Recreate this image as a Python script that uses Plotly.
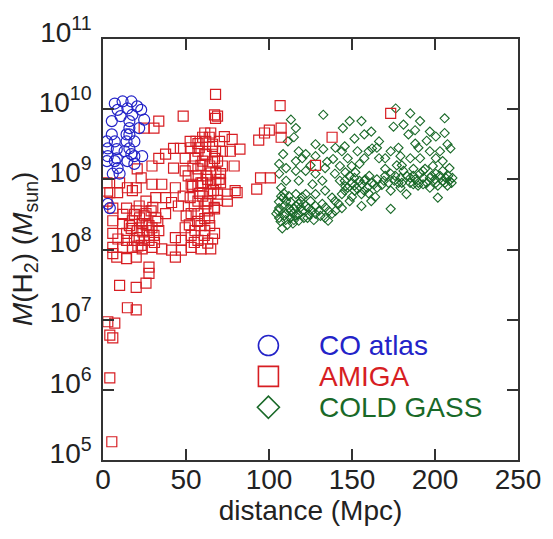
import plotly.graph_objects as go

# (distance [Mpc], log10 M(H2) [Msun])
co_atlas = [(7.1,10.08),(11.8,10.11),(17.1,10.11),(20.6,10.04),(23.0,9.99),(8.8,9.99),(14.7,10.01),
            (17.7,9.92),(15.9,9.83),(24.8,9.85),(15.9,9.73),(21.8,9.73),(5.3,9.64),(14.2,9.64),(2.4,9.54),
            (7.1,9.54),(14.2,9.54),(18.9,9.54),(2.9,9.44),(8.3,9.43),(15.9,9.44),(17.1,9.36),(2.9,9.33),
            (8.3,9.30),(18.9,9.33),(23.6,9.33),(2.4,9.26),(7.1,9.26),(14.7,9.26),(18.9,9.22),(8.8,9.16),
            (5.9,9.08),(10.0,9.08),(2.9,8.65),(4.1,8.59),(15.9,9.64),(10.6,9.90),(5.3,9.83),(13.0,9.40)]

amiga = [(67.8,10.21),(48.3,9.90),(33.6,9.83),(67.2,9.92),(67.8,9.87),(30.7,9.73),(24.8,9.73),(61.3,9.66),
         (64.9,9.66),(73.1,9.61),(77.8,9.57),(82.5,9.43),(76.7,9.40),(42.5,9.44),(46.6,9.44),(52.5,9.54),
         (57.2,9.51),(33.6,9.30),(29.5,9.19),(37.7,9.36),(49.5,9.30),(55.4,9.30),(61.3,9.36),(67.2,9.30),
         (79.0,9.19),(20.6,9.15),(23.0,9.02),(42.5,9.16),(49.5,9.12),(57.2,9.15),(64.9,9.09),(70.8,9.08),
         (2.4,8.95),(10.0,8.95),(14.7,8.88),(20.0,8.88),(29.5,8.93),(35.4,8.93),(43.6,8.88),(53.1,8.93),
         (59.0,8.95),(64.9,8.93),(70.8,8.95),(80.8,8.81),(74.9,8.79),(69.0,8.79),(4.1,8.81),(8.8,8.81),
         (17.7,8.84),(25.9,8.69),(31.8,8.74),(37.7,8.74),(41.3,8.67),(52.5,8.74),(57.2,8.69),(63.1,8.69),
         (67.2,8.58),(57.2,8.51),(2.4,8.69),(5.9,8.59),(14.2,8.59),(20.0,8.55),(25.9,8.51),(31.8,8.45),
         (37.7,8.51),(53.1,8.51),(61.3,8.44),(5.9,8.41),(11.8,8.37),(17.7,8.41),(23.6,8.37),(29.5,8.31),
         (49.5,8.31),(55.4,8.27),(61.3,8.27),(67.2,8.23),(5.9,8.23),(14.2,8.23),(21.8,8.17),(27.7,8.13),
         (43.6,8.17),(47.2,8.13),(57.2,8.13),(63.1,8.09),(64.9,8.01),(5.9,8.03),(11.8,8.03),(17.7,8.03),
         (23.6,8.01),(29.5,8.03),(35.4,8.01),(41.3,7.99),(47.2,7.99),(53.1,8.03),(59.0,8.01),(8.3,7.89),
         (14.2,7.87),(20.0,7.89),(43.6,7.89),(27.7,7.75),
         (21.8,8.62),(24.8,8.48),(27.7,8.34),(20.6,8.27),(30.7,8.20),(24.8,8.13),(18.9,8.13),(33.6,8.27),
         (26.5,8.27),(15.9,8.34),(23.0,8.06),(29.0,8.55),(14.2,8.13),
         (57.2,9.40),(60.1,9.26),(64.3,9.19),(67.8,9.40),(54.2,9.19),(62.5,9.05),(66.6,8.84),(57.2,8.91),
         (63.1,8.55),(69.0,9.26),(70.2,9.54),(51.3,9.05),(60.1,8.76),(55.0,8.62),(64.3,8.34),(59.0,8.34),
         (53.1,8.20),(50.1,8.48),(66.0,9.47),(71.9,9.40),(56.0,9.54),(61.9,9.54),(48.3,8.76),(45.4,8.62),
         (71.9,9.19),
         (58.0,9.45),(62.0,9.35),(66.0,9.25),(59.0,9.20),(63.0,9.00),(68.0,9.10),(56.0,9.05),(60.0,8.95),
         (65.0,8.80),(58.0,8.80),(62.0,8.65),(68.0,8.95),(54.0,8.90),(66.0,9.50),(70.0,9.00),(64.0,8.45),
         (57.0,8.40),(61.0,8.20),(55.0,8.10),(66.0,8.15),(52.0,8.35),(69.0,8.70),(60.0,9.60),(64.0,9.60),
         (53.0,9.45),(67.0,8.60),
         (19.0,8.50),(22.0,8.45),(26.0,8.35),(28.0,8.20),(31.0,8.10),(24.0,8.25),(17.0,8.30),(21.0,8.05),
         (33.0,8.40),(30.0,8.60),(12.0,8.50),(9.0,8.15),
         (69.0,9.90),(106.7,10.05),(93.8,9.56),(97.3,9.66),(100.2,9.70),(107.3,9.73),(107.3,9.60),
         (94.9,9.02),(100.8,9.02),(92.6,8.86),(138.0,9.60),(128.0,9.20),(173.3,9.94),(74.9,8.69),(79.6,8.84),
         (27.7,7.66),(25.9,7.52),(20.0,7.46),(10.0,7.49),(14.7,7.17),(20.0,7.14),(2.9,6.97),(7.1,6.95),
         (4.1,6.78),(5.9,6.74),(4.1,6.17),(5.3,5.26),(5.9,7.94)]

cold_gass = [(132.7,9.92),(113.2,9.85),(116.2,9.73),(176.3,10.01),(185.1,9.94),(191.0,9.83),(205.8,9.87),
             (181.0,9.78),(184.0,9.64),(188.1,9.51),(196.9,9.68),(200.5,9.61),(205.8,9.66),(207.5,9.50),
             (209.3,9.44),(151.5,9.58),(148.6,9.83),(144.5,9.73),(155.7,9.83),(161.6,9.68),(166.3,9.54),
             (157.4,9.64),(111.4,9.54),(108.5,9.36),(106.1,9.22),(117.9,9.40),(122.1,9.36),(128.0,9.50),
             (132.7,9.43),(138.6,9.29),(143.9,9.40),(147.4,9.30),(153.3,9.40),(157.4,9.30),(162.1,9.44),
             (166.3,9.30),(173.3,9.40),(179.2,9.33),(185.1,9.30),(191.0,9.30),(196.9,9.40),(200.5,9.30),
             (204.6,9.26),(208.7,9.16),(210.5,9.02),(206.4,9.02),(200.5,9.08),(196.9,9.02),(191.0,9.08),
             (185.1,9.02),(179.2,9.02),(173.3,9.08),(169.2,8.98),(163.3,8.93),(157.4,8.98),(151.5,9.02),
             (145.6,8.98),(139.7,9.08),(133.8,9.16),(128.0,9.08),(122.1,9.12),(116.2,9.12),(110.3,9.16),
             (106.1,9.08),(107.3,8.88),(108.5,8.74),(106.1,8.59),(106.1,8.45),(112.0,8.59),(114.4,8.51),
             (114.4,8.37),(117.9,8.65),(120.3,8.55),(123.8,8.59),(128.0,8.51),(133.8,8.45),(138.0,8.51),
             (139.7,8.69),(143.9,8.79),(147.4,8.88),(151.5,8.84),(155.7,8.79),(159.2,8.88),(161.6,8.69),
             (155.7,8.62),(148.6,8.69),(173.3,8.58),(165.1,8.88),(173.3,8.84),(179.2,8.88),(182.8,8.79),
             (186.9,8.93),(192.8,8.93),(196.9,8.88),(200.5,8.95),(201.7,8.74),(204.6,8.98),(208.7,8.98),
             (122.1,8.79),(116.2,8.79),(128.0,8.79),(133.8,8.84),(138.0,8.74),(117.9,8.98),(126.2,8.93),
             (132.1,8.98),(110.3,8.69),(110.3,8.51),(123.2,8.45),(135.6,8.41),(132.1,8.65),(143.9,8.59),
             (104.4,8.51),
             (109.1,8.62),(113.2,8.55),(116.2,8.48),(119.1,8.69),(125.0,8.69),(107.3,8.76),(112.0,8.76),
             (116.2,8.62),(122.1,8.62),(128.0,8.62),(109.1,8.48),(117.9,8.41),
             (148.6,9.05),(154.5,8.98),(160.4,9.05),(151.5,8.91),(157.4,8.84),(145.6,8.84),(142.7,8.98),
             (181.0,9.12),(186.9,9.05),(192.8,9.12),(198.7,9.19),(204.6,9.12),(207.5,8.91),(175.5,8.98),
             (189.8,8.91),(201.7,8.91),
             (145.6,9.47),(142.7,9.19),(149.8,9.19),(154.5,9.22),(128.0,9.33),(116.2,9.26),(110.3,8.98),
             (105.5,8.55),(107.0,8.40),(108.0,8.30),(110.0,8.42),(111.0,8.35),(113.0,8.45),(115.0,8.58),
             (115.0,8.42),(118.0,8.50),(119.0,8.60),(121.0,8.45),(124.0,8.50),(126.0,8.55),(127.0,8.42),
             (130.0,8.55),(131.0,8.48),(134.0,8.60),(136.0,8.55),(140.0,8.55),(142.0,8.65),(106.0,8.68),
             (109.0,8.80),(113.0,8.68),(120.0,8.75),
             (146.0,8.90),(150.0,8.95),(153.0,8.87),(156.0,8.93),(158.0,9.00),(162.0,8.95),(165.0,9.00),
             (168.0,8.92),(170.0,9.05),(172.0,8.95),(160.0,8.80),(164.0,8.75),(150.0,8.75),(146.0,9.10),
             (152.0,9.10),
             (176.0,9.05),(178.0,8.95),(180.0,8.95),(183.0,9.05),(185.0,8.95),(188.0,9.00),(190.0,8.95),
             (193.0,9.02),(195.0,8.95),(198.0,9.05),(200.0,9.00),(203.0,9.05),(206.0,8.95),(208.0,9.05),
             (210.0,8.95),(194.0,9.15),(187.0,9.15),(180.0,9.20),(170.0,9.15),(177.0,9.20),
             (115.0,9.60),(120.0,9.30),(125.0,9.20),(135.0,9.25),(140.0,9.45),(160.0,9.40),(170.0,9.30),
             (178.0,9.45),(190.0,9.45),(203.0,9.40),(195.0,9.55),(188.0,9.70),(175.0,9.75),(165.0,9.45)]

x_ticks = [0, 50, 100, 150, 200, 250]
y_exponents = [5, 6, 7, 8, 9, 10, 11]

BLUE = "rgb(35,35,200)"
RED = "rgb(215,30,35)"
GREEN = "rgb(25,105,40)"
FONT = "Liberation Sans, Arial, Helvetica, sans-serif"

def split(pts):
    return [p[0] for p in pts], [10 ** p[1] for p in pts]

fig = go.Figure()
gx, gy = split(cold_gass)
fig.add_trace(go.Scatter(x=gx, y=gy, mode="markers", name="COLD GASS",
                         marker=dict(symbol="diamond-open", size=7, color=GREEN, line=dict(width=1.1, color=GREEN))))
ax, ay = split(amiga)
fig.add_trace(go.Scatter(x=ax, y=ay, mode="markers", name="AMIGA",
                         marker=dict(symbol="square-open", size=10, color=RED, line=dict(width=1.2, color=RED))))
cx, cy = split(co_atlas)
fig.add_trace(go.Scatter(x=cx, y=cy, mode="markers", name="CO atlas",
                         marker=dict(symbol="circle-open", size=11, color=BLUE, line=dict(width=1.2, color=BLUE))))

axis_common = dict(showline=True, linecolor="#333", linewidth=1.5, mirror="ticks", ticks="inside",
                   ticklen=11, tickwidth=1.5, tickcolor="#333", showgrid=False, zeroline=False,
                   tickfont=dict(family=FONT, size=28, color="#222"))

fig.update_xaxes(range=[0, 250], tickvals=x_ticks, ticktext=[str(v) for v in x_ticks],
                 ticklabelstandoff=-6,
                 title=dict(text="distance (Mpc)", font=dict(family=FONT, size=28, color="#222"), standoff=4),
                 **axis_common)
fig.update_yaxes(type="log", range=[5, 11], tickvals=[10 ** e for e in y_exponents],
                 ticktext=["10<sup>%d</sup>" % e for e in y_exponents], ticklabelstandoff=4,
                 ticklabelshift=-7, **axis_common)

# legend (drawn inside the axes, bottom right)
legend_items = [("CO atlas", BLUE, "circle"), ("AMIGA", RED, "square"), ("COLD GASS", GREEN, "diamond")]
leg_x_sym = 0.3986
leg_x_txt = 0.515
leg_y = [0.2719, 0.1986, 0.1253]
shapes = []
annotations = []
for (label, col, kind), yy in zip(legend_items, leg_y):
    common = dict(xref="paper", yref="paper", xsizemode="pixel", ysizemode="pixel",
                  xanchor=leg_x_sym, yanchor=yy, line=dict(color=col, width=1.6))
    if kind == "circle":
        shapes.append(dict(type="circle", x0=-10, x1=10, y0=-10, y1=10, **common))
    elif kind == "square":
        shapes.append(dict(type="rect", x0=-10, x1=10, y0=-10, y1=10, **common))
    else:
        shapes.append(dict(type="path", path="M0,-11 L11,0 L0,11 L-11,0 Z", **common))
    annotations.append(dict(xref="paper", yref="paper", x=leg_x_txt, y=yy, xanchor="left", yanchor="middle",
                            text=label, showarrow=False, font=dict(family=FONT, size=28, color=col)))

annotations.append(dict(xref="paper", yref="paper", x=-0.189, y=0.5, xanchor="center", yanchor="middle",
                        textangle=-90, showarrow=False,
                        text="<i>M</i>(H<sub>2</sub>) (<i>M</i><sub>sun</sub>)",
                        font=dict(family=FONT, size=28, color="#222")))

fig.update_layout(width=553, height=539, margin=dict(l=103, r=26, t=37, b=79),
                  plot_bgcolor="white", paper_bgcolor="white", showlegend=False,
                  shapes=shapes, annotations=annotations)

fig.write_html("out.html")
